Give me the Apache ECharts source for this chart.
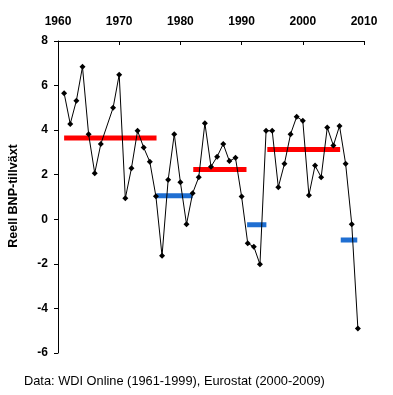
<!DOCTYPE html>
<html>
<head>
<meta charset="utf-8">
<script src="https://cdn.jsdelivr.net/npm/echarts@6/dist/echarts.min.js"></script>
<style>
html,body{margin:0;padding:0;background:#fff;}
#chart{width:393px;height:395px;}
</style>
</head>
<body>
<div id="chart"></div>
<script>
// Years and real GDP growth (%)
const years = [1961,1962,1963,1964,1965,1966,1967,1968,1969,1970,
  1971,1972,1973,1974,1975,1976,1977,1978,1979,1980,
  1981,1982,1983,1984,1985,1986,1987,1988,1989,1990,
  1991,1992,1993,1994,1995,1996,1997,1998,1999,2000,
  2001,2002,2003,2004,2005,2006,2007,2008,2009];
const growth = [5.66,4.28,5.32,6.84,3.82,2.07,3.38,null,5.0,6.49,
  0.94,2.29,3.97,3.22,2.58,1.03,-1.64,1.77,3.82,1.66,
  -0.22,1.17,1.89,4.31,2.36,2.81,3.38,2.61,2.76,1.02,
  -1.08,-1.23,-2.02,3.97,3.97,1.44,2.49,3.82,4.60,4.42,
  1.08,2.41,1.89,4.12,3.31,4.19,2.49,-0.22,-4.90];

// Period averages: [startYear, endYear, average]
const highPeriods = [[1961,1976.1,3.65],[1982.1,1990.8,2.23],[1994.2,2006.1,3.13]];
const lowPeriods  = [[1976.1,1982.0,1.06],[1990.9,1994.05,-0.24],[2006.2,2008.9,-0.93]];

const xTicks = {min:1960,max:2010,interval:10};
const yTicks = {min:-6,max:8,interval:2};

const yLabel = 'Reell BNP-tillväxt';
const source = 'Data: WDI Online (1961-1999), Eurostat (2000-2009)';

const FONT = 'Arial, "Liberation Sans", sans-serif';

const chart = echarts.init(document.getElementById('chart'), null, {renderer:'canvas'});

function periodSeries(periods, color){
  return periods.map(p => ({
    type:'line',
    data:[[p[0],p[2]],[p[1],p[2]]],
    symbol:'none',
    lineStyle:{color:color,width:5,cap:'butt'},
    silent:true,
    z:2,
    animation:false
  }));
}

const option = {
  animation:false,
  grid:{left:58,right:29,top:41,bottom:42,containLabel:false},
  xAxis:{
    type:'value',position:'top',
    min:xTicks.min,max:xTicks.max,interval:xTicks.interval,
    axisLine:{show:true,onZero:false,lineStyle:{color:'#000',width:1}},
    axisTick:{show:true,inside:true,length:4,lineStyle:{color:'#000'}},
    axisLabel:{color:'#000',fontFamily:FONT,fontSize:12,fontWeight:'bold',margin:13,
      formatter:v=>String(v)},
    splitLine:{show:false}
  },
  yAxis:{
    type:'value',
    min:yTicks.min,max:yTicks.max,interval:yTicks.interval,
    axisLine:{show:true,onZero:false,lineStyle:{color:'#000',width:1}},
    axisTick:{show:true,inside:false,length:4,lineStyle:{color:'#000'}},
    axisLabel:{color:'#000',fontFamily:FONT,fontSize:12,fontWeight:'bold',margin:10},
    splitLine:{show:false}
  },
  series:[
    ...periodSeries(highPeriods,'#ff0000'),
    ...periodSeries(lowPeriods,'#1f6fd2'),
    {
      type:'line',
      data:years.map((y,i)=>[y,growth[i]]),
      connectNulls:true,
      symbol:'diamond',symbolSize:6,
      itemStyle:{color:'#000'},
      lineStyle:{color:'#000',width:1},
      z:5
    }
  ],
  graphic:[
    {type:'text',x:14,y:196,rotation:Math.PI/2,
     style:{text:yLabel,font:'bold 12.5px '+FONT,fill:'#000',textAlign:'center',textVerticalAlign:'middle'}},
    {type:'text',x:24,y:381,
     style:{text:source,font:'12.8px '+FONT,fill:'#000',textAlign:'left',textVerticalAlign:'middle'}}
  ]
};
chart.setOption(option);
</script>
</body>
</html>
